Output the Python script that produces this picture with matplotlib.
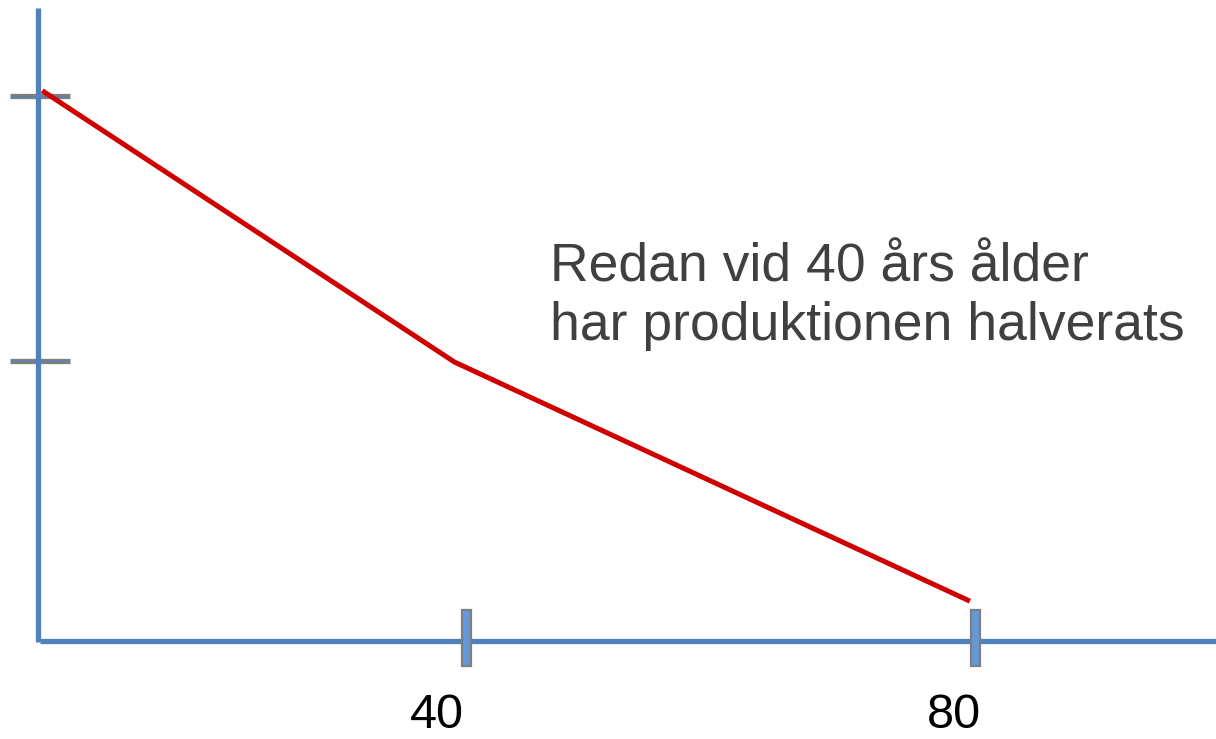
import matplotlib
matplotlib.use("Agg")
import matplotlib.pyplot as plt
from matplotlib.patches import Rectangle

# Data (age vs relative production)
ages = [6.7, 39.1, 79.6]
production = [101.0, 49.8, 4.7]
x_ticks = [40, 80]
x_tick_labels = ["40", "80"]
x_label_pos = [37.72, 78.35]
y_ticks = [100, 50]
annotation = "Redan vid 40 års ålder\nhar produktionen halverats"

AXIS_BLUE = "#4F81BD"
TICK_GRAY = "#7F7F7F"
RED = "#D00000"

fig = plt.figure(figsize=(12.16, 7.39), dpi=100)
ax = fig.add_axes([0, 0, 1, 1])
ax.set_xlim(3.38, 98.94)
ax.set_ylim(-21.3, 118.1)
ax.axis("off")

# axis origin / extents (data units)
x0 = 6.37   # y-axis position
y0 = -2.8   # x-axis position

# y axis and x axis
ax.plot([x0, x0], [y0 - 0.2, 116.6], color=AXIS_BLUE, lw=3.8, solid_capstyle="butt", zorder=2)
ax.plot([x0 + 0.15, 98.94], [y0, y0], color=AXIS_BLUE, lw=3.8, solid_capstyle="butt", zorder=2)

# y ticks
for yt in y_ticks:
    ax.plot([x0 - 2.2, x0 + 2.5], [yt, yt], color=TICK_GRAY, lw=3.8, solid_capstyle="butt", zorder=3)
    ax.plot([x0 - 2.1, x0 + 2.4], [yt, yt], color=AXIS_BLUE, lw=0.8, solid_capstyle="butt", zorder=3)
    ax.plot([x0, x0], [yt - 0.6, yt + 0.6], color=AXIS_BLUE, lw=3.8, solid_capstyle="butt", zorder=3)

# x ticks
for xt, lx, lab in zip(x_ticks, x_label_pos, x_tick_labels):
    ax.add_patch(Rectangle((xt - 0.33, -7.6), 0.7, 10.6, facecolor="#6497DC",
                           edgecolor=TICK_GRAY, lw=1.6, zorder=3))
    ax.text(lx, -19.25, lab, fontsize=35, family="Liberation Sans",
            ha="center", va="baseline", color="black")

# production line
ax.plot(ages, production, color=RED, lw=3.6, solid_capstyle="butt", zorder=4)

ax.text(46.6, 53.96, annotation, fontsize=38.5, family="Liberation Sans",
        color="#404040", ha="left", va="baseline", linespacing=1.21)

fig.savefig("out.png", dpi=100)
